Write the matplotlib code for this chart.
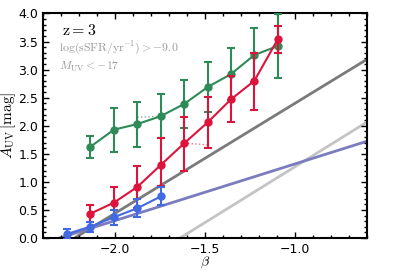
import numpy as np
import matplotlib
matplotlib.use("Agg")
import matplotlib.pyplot as plt
from matplotlib.ticker import MultipleLocator

plt.rcParams['mathtext.fontset'] = 'cm'

nan = np.nan

# beta bins
beta_green = [-2.139, -2.006, -1.876, -1.746, -1.615, -1.485, -1.356, -1.226, -1.096]
auv_green = [1.62, 1.93, 2.03, 2.17, 2.39, 2.69, 2.92, 3.26, 3.42]
err_green = [0.20, 0.39, 0.40, 0.39, 0.43, 0.44, 0.47, 0.48, 0.57]
auv_green_alt = [nan, nan, 2.15, 2.17, nan, nan, nan, nan, nan]

beta_red = [-2.139, -2.006, -1.876, -1.746, -1.615, -1.485, -1.356, -1.226, -1.096]
auv_red = [0.43, 0.63, 0.91, 1.30, 1.69, 2.06, 2.47, 2.80, 3.54]
err_red_lo = [0.15, 0.28, 0.38, 0.37, 0.49, 0.46, 0.41, 0.52, 0.25]
err_red_hi = [0.16, 0.28, 0.38, 0.49, 0.47, 0.46, 0.41, 0.49, 0.24]
auv_red_alt = [nan, nan, nan, nan, 1.69, 1.66, nan, nan, nan]

beta_blue = [-2.268, -2.139, -2.006, -1.876, -1.746]
auv_blue = [0.07, 0.20, 0.37, 0.53, 0.74]
err_blue = [0.09, 0.09, 0.13, 0.16, 0.16]

# reference relations A_UV = a + b*beta
rel_a = [4.36, 3.26, 2.33]
rel_b = [1.96, 1.99, 1.01]
rel_colors = ["#7a7a7a", "#c4c4c4", "#7b7bbf"]

fig = plt.figure(figsize=(4.07, 2.71), dpi=100)
ax = fig.add_axes([0.1057, 0.1218, 0.7960, 0.8284])

bb = np.linspace(-2.4, -0.6, 50)
for a, b, c in zip(rel_a, rel_b, rel_colors):
    ax.plot(bb, a + b * bb, color=c, lw=2, zorder=1)

ax.plot(beta_green, auv_green_alt, color="#2e8b57", lw=1, ls=":", alpha=0.6, zorder=2)
ax.plot(beta_red, auv_red_alt, color="#dc143c", lw=1, ls=":", alpha=0.6, zorder=2)

ax.errorbar(beta_green, auv_green, yerr=err_green, color="#2e8b57", marker="o", ms=5,
            lw=1.5, capsize=3, capthick=1.5, elinewidth=1.5, zorder=3)
ax.errorbar(beta_red, auv_red, yerr=[err_red_lo, err_red_hi], color="#dc143c", marker="o",
            ms=5, lw=1.5, capsize=3, capthick=1.5, elinewidth=1.5, zorder=4)
ax.errorbar(beta_blue, auv_blue, yerr=err_blue, color="#4169e1", marker="o", ms=5,
            lw=1.5, capsize=3, capthick=1.5, elinewidth=1.5, zorder=4)

ax.set_xlim(-2.4, -0.6)
ax.set_ylim(0, 4.0)
ax.xaxis.set_major_locator(MultipleLocator(0.5))
ax.xaxis.set_minor_locator(MultipleLocator(0.1))
ax.yaxis.set_major_locator(MultipleLocator(0.5))
ax.yaxis.set_minor_locator(MultipleLocator(0.1))
ax.tick_params(which="both", direction="in", top=True, right=True, labelsize=9, width=1)
ax.tick_params(which="major", length=4)
ax.tick_params(which="minor", length=2)
for s in ax.spines.values():
    s.set_linewidth(1.5)

ax.set_xlabel(r"$\beta$", fontsize=10, labelpad=-1)
ax.set_ylabel(r"$A_{\rm UV}\,[\rm mag]$", fontsize=11, labelpad=0)

ax.text(0.059, 0.904, r"$\rm z=3$", transform=ax.transAxes, fontsize=11.5, va="baseline")
ax.text(0.05, 0.829, r"$\rm log(sSFR/yr^{-1})>-9.0$", transform=ax.transAxes,
        fontsize=8.5, va="baseline", color="#999999")
ax.text(0.05, 0.750, r"$M_{\rm UV}<-17$", transform=ax.transAxes,
        fontsize=8.5, va="baseline", color="#999999")

fig.savefig("out.png", dpi=100)
